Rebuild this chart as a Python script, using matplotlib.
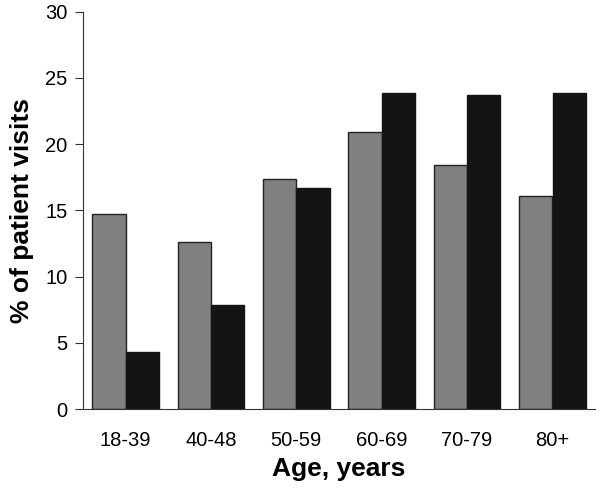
import numpy as np
import matplotlib
matplotlib.use("Agg")
import matplotlib.pyplot as plt

plt.rcParams['font.family'] = ['Liberation Sans', 'DejaVu Sans']

# Data
age_groups = ['18-39', '40-48', '50-59', '60-69', '70-79', '80+']
gray_values = [14.7, 12.6, 17.4, 20.9, 18.4, 16.1]
black_values = [4.3, 7.9, 16.7, 23.9, 23.7, 23.9]

fig = plt.figure(figsize=(6.0, 4.9), dpi=100)
ax = fig.add_axes([0.138, 0.165, 0.854, 0.811])

x = np.arange(len(age_groups))
width = 0.39
ax.bar(x - width / 2, gray_values, width, color='#808080', edgecolor='#222222', linewidth=1.0)
ax.bar(x + width / 2, black_values, width, color='#141414', edgecolor='#141414', linewidth=1.0)

ax.set_xlim(-0.5, len(age_groups) - 0.5)
ax.set_ylim(0, 30)
ax.set_yticks(range(0, 31, 5))
ax.set_xticks(x)
ax.set_xticklabels(age_groups)

ax.spines['top'].set_visible(False)
ax.spines['right'].set_visible(False)
ax.spines['left'].set_color('#333333')
ax.spines['bottom'].set_color('#333333')
ax.tick_params(axis='y', direction='out', length=6, color='#333333', labelsize=14.5, pad=5)
ax.tick_params(axis='x', length=0, labelsize=14.5, pad=16)

ax.set_xlabel('Age, years', fontsize=19, fontweight='bold', labelpad=5)
ax.set_ylabel('% of patient visits', fontsize=19, fontweight='bold', labelpad=8)

fig.savefig('out.png', dpi=100)
